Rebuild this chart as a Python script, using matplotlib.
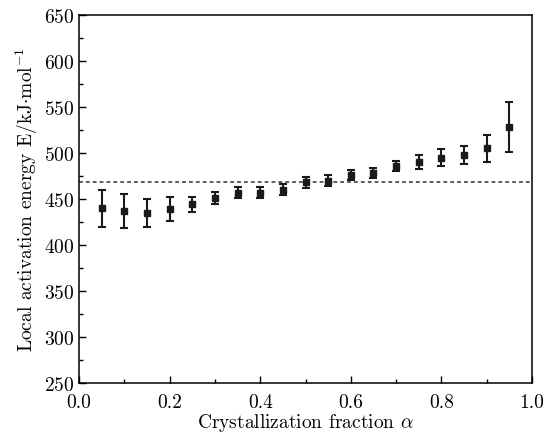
import matplotlib
matplotlib.use("Agg")
import matplotlib.pyplot as plt
from matplotlib.ticker import MultipleLocator

plt.rcParams['font.family'] = 'cmr10'
plt.rcParams['mathtext.fontset'] = 'cm'
plt.rcParams['axes.formatter.use_mathtext'] = True

# data
alpha = [0.05, 0.10, 0.15, 0.20, 0.25, 0.30, 0.35, 0.40, 0.45, 0.50,
         0.55, 0.60, 0.65, 0.70, 0.75, 0.80, 0.85, 0.90, 0.95]
energy = [440, 437, 435, 439, 444, 451, 457, 457, 460, 468,
          470, 476, 478, 486, 490, 495, 498, 505, 528]
err = [20, 18, 15, 13, 8, 7, 6, 6, 6, 6,
       5.5, 5.5, 5.5, 5.5, 8, 9.5, 10, 14.5, 27]
mean_energy = 468

fig = plt.figure(figsize=(5.53, 4.39), dpi=100)
ax = fig.add_axes([0.143, 0.125, 0.819, 0.839])

ax.axhline(mean_energy, color='#333333', linestyle=(0, (2.5, 2)), linewidth=1.1)
ax.errorbar(alpha, energy, yerr=err, fmt='s', color='#1a1a1a', markersize=4,
            elinewidth=1.5, capsize=3, capthick=1.5)

ax.set_xlim(0, 1.0)
ax.set_ylim(250, 650)
ax.xaxis.set_major_locator(MultipleLocator(0.2))
ax.xaxis.set_minor_locator(MultipleLocator(0.1))
ax.yaxis.set_major_locator(MultipleLocator(50))
ax.yaxis.set_minor_locator(MultipleLocator(25))
ax.xaxis.set_major_formatter(matplotlib.ticker.FormatStrFormatter('%.1f'))
ax.tick_params(which='both', direction='in', top=False, right=False, labelsize=14)
ax.tick_params(which='major', length=5, width=1)
ax.tick_params(which='minor', length=3, width=1)
ax.tick_params(axis='x', pad=7)
for s in ax.spines.values():
    s.set_linewidth(1.1)

ax.set_xlabel(r'Crystallization fraction $\alpha$', fontsize=14, labelpad=0)
ax.set_ylabel(r'Local activation energy E/kJ$\cdot$mol$^{-1}$', fontsize=14, labelpad=3)

fig.savefig('out.png', dpi=100)
